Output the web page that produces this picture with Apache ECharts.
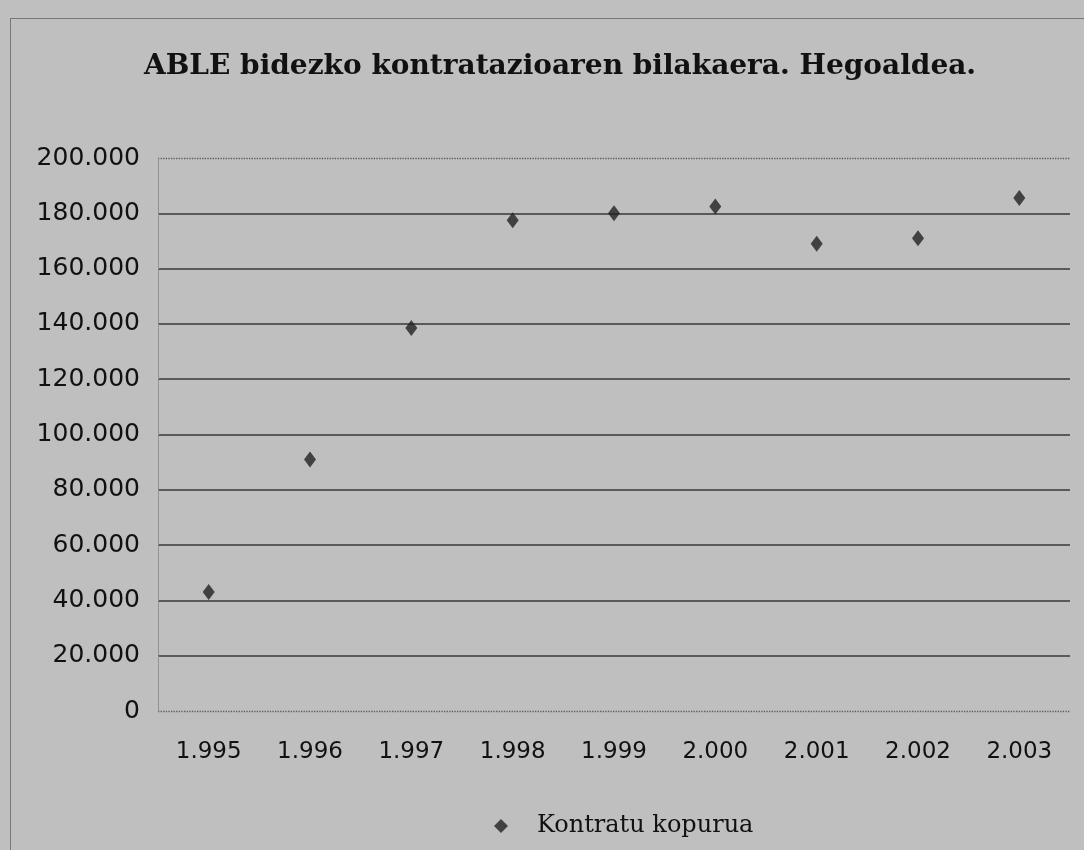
<!DOCTYPE html>
<html>
<head>
<meta charset="utf-8">
<script src="https://cdn.jsdelivr.net/npm/echarts@6/dist/echarts.min.js"></script>
<style>
  html, body { margin: 0; padding: 0; background: #bfbfbf; }
  #chart { width: 1084px; height: 850px; }
  .frame {
    position: absolute; left: 10px; top: 18px; width: 1090px; height: 850px;
    border-left: 1px solid #777; border-top: 1px solid #777;
    pointer-events: none;
  }
</style>
</head>
<body>
<div id="chart"></div>
<div class="frame"></div>
<script>
// ABLE contracts per year
const years = ['1.995', '1.996', '1.997', '1.998', '1.999', '2.000', '2.001', '2.002', '2.003'];
const contracts = [43000, 91000, 138500, 177500, 180000, 182500, 169000, 171000, 185500];
const seriesName = 'Kontratu kopurua';
const titleText = 'ABLE bidezko kontratazioaren bilakaera. Hegoaldea.';

// thousands separator is a dot in the original
function fmt(v) {
  return String(v).replace(/\B(?=(\d{3})+(?!\d))/g, '.');
}

const chart = echarts.init(document.getElementById('chart'));
// inner gridlines solid, first/last drawn by the dotted helper axis
const gridColors = ['rgba(0,0,0,0)'];
for (let i = 1; i < 10; i++) gridColors.push('#383838');
gridColors.push('rgba(0,0,0,0)');

chart.setOption({
  backgroundColor: 'transparent',
  title: {
    text: titleText,
    left: 555,
    textAlign: 'center',
    top: 48,
    textStyle: { fontFamily: 'DejaVu Serif', fontWeight: 'bold', fontSize: 28, color: '#111' }
  },
  legend: {
    left: 489,
    top: 809,
    icon: 'diamond',
    itemWidth: 14,
    itemHeight: 14,
    itemGap: 10,
    data: [seriesName],
    textStyle: { fontFamily: 'DejaVu Serif', fontSize: 24, color: '#111', padding: [0, 0, 0, 24] }
  },
  grid: { left: 158, right: 14, top: 158, bottom: 139 },
  xAxis: {
    type: 'category',
    data: years,
    boundaryGap: true,
    axisLine: { show: false },
    axisTick: { show: false },
    axisLabel: { margin: 30, fontFamily: 'DejaVu Sans', fontSize: 23, color: '#111' }
  },
  yAxis: [
    {
      type: 'value',
      min: 0,
      max: 200000,
      interval: 20000,
      axisLine: { show: true, lineStyle: { color: '#8a8a8a', type: 'dotted', width: 1 } },
      axisTick: { show: false },
      axisLabel: {
        margin: 18,
        fontFamily: 'DejaVu Sans',
        fontSize: 25,
        color: '#111',
        formatter: fmt
      },
      splitLine: { show: true, lineStyle: { color: gridColors, width: 1.6 } }
    },
    {
      type: 'value',
      position: 'left',
      min: 0,
      max: 200000,
      interval: 200000,
      axisLine: { show: false },
      axisTick: { show: false },
      axisLabel: { show: false },
      splitLine: { show: true, lineStyle: { color: '#5a5a5a', type: 'dotted', width: 1.3 } }
    }
  ],
  series: [
    {
      name: seriesName,
      type: 'scatter',
      symbol: 'diamond',
      symbolSize: [12, 16],
      itemStyle: { color: '#222' },
      data: contracts
    }
  ]
});
</script>
</body>
</html>
